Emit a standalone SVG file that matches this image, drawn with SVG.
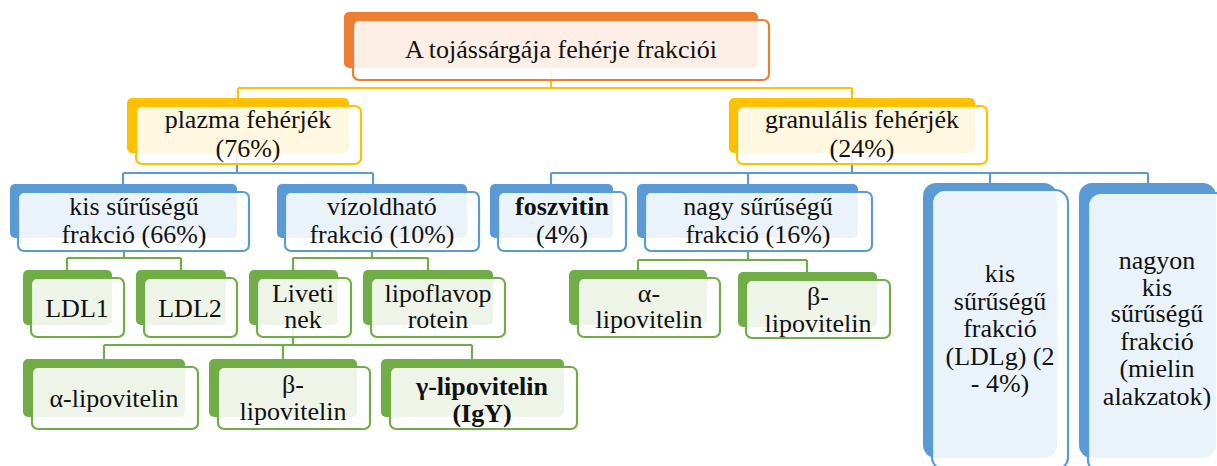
<svg xmlns="http://www.w3.org/2000/svg" width="1217" height="466" viewBox="0 0 1217 466">
<style>
.t{font-family:'Liberation Serif','DejaVu Serif',serif;font-size:26px;text-anchor:middle;fill:#111}
.b{font-weight:bold}
.fr{fill:#fff;fill-opacity:0.88;stroke-width:2.2}
.o{fill:#ED7D31}.oS{stroke:#ED7D31}
.y{fill:#FFC000}.yS{stroke:#FFC000}
.bl{fill:#5B9BD5}.blS{stroke:#5B9BD5}
.g{fill:#70AD47}.gS{stroke:#70AD47}
.c{fill:none;stroke-width:2.2}
</style>
<g id="connectors">
<path class="c yS" d="M551 68V88M238 88H852M238 88V98M852 88V98"/>
<path class="c blS" d="M237 153V173M123 173H373M123 173V184M373 173V184"/>
<path class="c blS" d="M852 153V173M551 173H1148M551 173V184M748 173V184M990 173V184M1148 173V184"/>
<path class="c gS" d="M124 238V258M67 258H181M67 258V270M181 258V270"/>
<path class="c gS" d="M372 238V258M293 258H428M293 258V270M428 258V270"/>
<path class="c gS" d="M293 325V345M104 345H472M104 345V359M283 345V359M472 345V359"/>
<path class="c gS" d="M748 238V260M638 260H807M638 260V270M807 260V272"/>
</g>
<g id="n-title">
<rect class="o" x="344" y="12" width="414" height="56" rx="5"/>
<rect class="fr oS" x="353" y="20" width="416" height="60" rx="6"/>
<text class="t" x="561" y="58" font-size="27">A tojássárgája fehérje frakciói</text>
</g>
<g id="n-plazma">
<rect class="y" x="127" y="98" width="222" height="55" rx="5"/>
<rect class="fr yS" x="136" y="106" width="225" height="58" rx="6"/>
<text class="t" x="248" y="128">plazma fehérjék</text>
<text class="t" x="248" y="157">(76%)</text>
</g>
<g id="n-granularis">
<rect class="y" x="729" y="98" width="246" height="55" rx="5"/>
<rect class="fr yS" x="737" y="106" width="250" height="58" rx="6"/>
<text class="t" x="862" y="128">granulális fehérjék</text>
<text class="t" x="862" y="157">(24%)</text>
</g>
<g id="n-kis">
<rect class="bl" x="10" y="184" width="227" height="54" rx="5"/>
<rect class="fr blS" x="18" y="192" width="231" height="59" rx="6"/>
<text class="t" x="134" y="215">kis sűrűségű</text>
<text class="t" x="134" y="243">frakció (66%)</text>
</g>
<g id="n-vizoldhato">
<rect class="bl" x="277" y="184" width="190" height="54" rx="5"/>
<rect class="fr blS" x="285" y="192" width="194" height="59" rx="6"/>
<text class="t" x="382" y="215">vízoldható</text>
<text class="t" x="382" y="243">frakció (10%)</text>
</g>
<g id="n-foszvitin">
<rect class="bl" x="490" y="184" width="123" height="54" rx="5"/>
<rect class="fr blS" x="498" y="192" width="128" height="59" rx="6"/>
<text class="t b" x="562" y="215">foszvitin</text>
<text class="t" x="562" y="243">(4%)</text>
</g>
<g id="n-nagy">
<rect class="bl" x="637" y="184" width="221" height="54" rx="5"/>
<rect class="fr blS" x="645" y="192" width="227" height="59" rx="6"/>
<text class="t" x="758" y="215">nagy sűrűségű</text>
<text class="t" x="758" y="243">frakció (16%)</text>
</g>
<g id="n-ldlg">
<rect class="bl" x="923" y="183" width="134" height="275" rx="13"/>
<rect class="fr blS" x="932" y="190" width="136" height="280" rx="13"/>
<text class="t" x="1000" y="282">kis</text>
<text class="t" x="1000" y="310">sűrűségű</text>
<text class="t" x="1000" y="337">frakció</text>
<text class="t" x="1000" y="365">(LDLg) (2</text>
<text class="t" x="1000" y="392">- 4%)</text>
</g>
<g id="n-nagyon">
<rect class="bl" x="1079" y="183" width="137" height="275" rx="13"/>
<rect class="fr blS" x="1088" y="193" width="140" height="280" rx="13"/>
<text class="t" x="1157" y="269">nagyon</text>
<text class="t" x="1157" y="296">kis</text>
<text class="t" x="1157" y="322">sűrűségű</text>
<text class="t" x="1157" y="350">frakció</text>
<text class="t" x="1157" y="377">(mielin</text>
<text class="t" x="1157" y="405">alakzatok)</text>
</g>
<g id="n-ldl1">
<rect class="g" x="23" y="270" width="89" height="55" rx="5"/>
<rect class="fr gS" x="31" y="278" width="93" height="59" rx="6"/>
<text class="t" x="77" y="317">LDL1</text>
</g>
<g id="n-ldl2">
<rect class="g" x="136" y="270" width="90" height="55" rx="5"/>
<rect class="fr gS" x="144" y="278" width="93" height="59" rx="6"/>
<text class="t" x="190" y="317">LDL2</text>
</g>
<g id="n-livetinek">
<rect class="g" x="249" y="270" width="89" height="55" rx="5"/>
<rect class="fr gS" x="257" y="278" width="94" height="59" rx="6"/>
<text class="t" x="303" y="302">Liveti</text>
<text class="t" x="303" y="328">nek</text>
</g>
<g id="n-lipoflavoprotein">
<rect class="g" x="363" y="270" width="130" height="55" rx="5"/>
<rect class="fr gS" x="371" y="278" width="134" height="59" rx="6"/>
<text class="t" x="438" y="302">lipoflavop</text>
<text class="t" x="438" y="328">rotein</text>
</g>
<g id="n-alpha1">
<rect class="g" x="23" y="359" width="162" height="58" rx="5"/>
<rect class="fr gS" x="32" y="367" width="166" height="62" rx="6"/>
<text class="t" x="114" y="407">α-lipovitelin</text>
</g>
<g id="n-beta1">
<rect class="g" x="209" y="359" width="148" height="58" rx="5"/>
<rect class="fr gS" x="218" y="367" width="152" height="62" rx="6"/>
<text class="t" x="293" y="393">β-</text>
<text class="t" x="293" y="420">lipovitelin</text>
</g>
<g id="n-gamma">
<rect class="g" x="381" y="359" width="183" height="58" rx="5"/>
<rect class="fr gS" x="390" y="367" width="187" height="62" rx="6"/>
<text class="t b" x="482" y="395">γ-lipovitelin</text>
<text class="t b" x="482" y="422">(IgY)</text>
</g>
<g id="n-alpha2">
<rect class="g" x="569" y="270" width="138" height="55" rx="5"/>
<rect class="fr gS" x="578" y="278" width="142" height="59" rx="6"/>
<text class="t" x="649" y="302">α-</text>
<text class="t" x="649" y="328">lipovitelin</text>
</g>
<g id="n-beta2">
<rect class="g" x="738" y="272" width="139" height="55" rx="5"/>
<rect class="fr gS" x="746" y="280" width="144" height="58" rx="6"/>
<text class="t" x="818" y="305">β-</text>
<text class="t" x="818" y="332">lipovitelin</text>
</g>
</svg>
